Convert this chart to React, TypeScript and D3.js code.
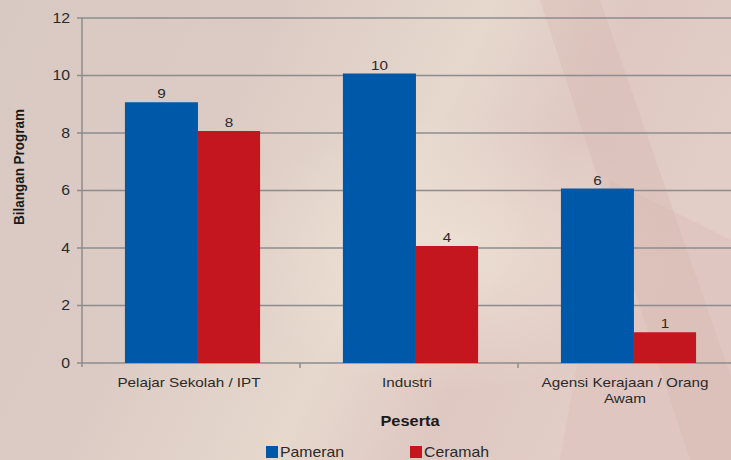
import React from "react";
import * as d3 from "d3";

const categories = ["Pelajar Sekolah / IPT", "Industri", "Agensi Kerajaan / Orang Awam"];
const categoryLines = [["Pelajar Sekolah / IPT"], ["Industri"], ["Agensi Kerajaan / Orang", "Awam"]];
const pameran = [9, 10, 6];
const ceramah = [8, 4, 1];
const seriesNames = ["Pameran", "Ceramah"];
const seriesColors = ["#0058a8", "#c4161e"];
const yTicks = [0, 2, 4, 6, 8, 10, 12];

const W = 731, H = 460;
const M = { left: 82, top: 18, right: -5, bottom: 97 };
const SX = 1.13;

function T(props: { x: number; y: number; anchor?: string; size: number; bold?: boolean; children: React.ReactNode; dy?: string }) {
  return (
    <text
      transform={`translate(${props.x},${props.y}) scale(${SX},1)`}
      dy={props.dy}
      textAnchor={props.anchor || "start"}
      fontFamily="'Liberation Sans', Arial, sans-serif"
      fontSize={props.size}
      fontWeight={props.bold ? "bold" : "normal"}
      fill={props.bold ? "#1a1a1a" : "#2a2a2a"}
    >
      {props.children}
    </text>
  );
}

export default function App() {
  const x = d3.scaleBand<string>().domain(categories).range([M.left, W - M.right]).paddingInner(0).paddingOuter(0);
  const y = d3.scaleLinear().domain([0, 12]).range([H - M.bottom, M.top]);
  const bw = x.bandwidth();
  const blueW = bw * 0.335;
  const redW = bw * 0.285;
  const groupW = blueW + redW;
  const font = "'Liberation Sans', Arial, sans-serif";
  return (
    <svg width={W} height={H} style={{ position: "absolute", left: 0, top: 0 }}>
      <defs>
        <linearGradient id="bg" x1="0" y1="0" x2="1" y2="0.3">
          <stop offset="0" stopColor="#d8c9c2" />
          <stop offset="0.35" stopColor="#dccbc4" />
          <stop offset="0.62" stopColor="#e6d8cd" />
          <stop offset="0.8" stopColor="#dfc8c2" />
          <stop offset="1" stopColor="#e3cdc7" />
        </linearGradient>
        <radialGradient id="glow" cx="0.62" cy="0.55" r="0.3">
          <stop offset="0" stopColor="#efe3d6" stopOpacity="0.8" />
          <stop offset="1" stopColor="#efe3d6" stopOpacity="0" />
        </radialGradient>
      </defs>
      <rect width={W} height={H} fill="url(#bg)" />
      <rect width={W} height={H} fill="url(#glow)" />
      <path d="M540,0 L600,0 L760,460 L690,460 Z" fill="#cfaea6" opacity="0.25" />
      <path d="M610,180 L731,240 L731,460 L560,460 Z" fill="#d9b3ab" opacity="0.25" />
      {yTicks.map((t) => (
        <g key={t}>
          <line x1={M.left - 5} x2={W} y1={y(t)} y2={y(t)} stroke="#8c8c8c" strokeWidth={1.5} />
          <T x={M.left - 12} y={y(t)} dy="0.35em" anchor="end" size={14}>{t}</T>
        </g>
      ))}
      <line x1={M.left} x2={M.left} y1={M.top} y2={y(0) + 4} stroke="#8c8c8c" strokeWidth={1.5} />
      {categories.map((c, i) => {
        const x0 = (x(c) as number) + (bw - groupW) / 2 + 1.5;
        return (
          <g key={c}>
            <line x1={(x(c) as number) + bw} x2={(x(c) as number) + bw} y1={y(0)} y2={y(0) + 5} stroke="#8c8c8c" strokeWidth={1.5} />
            <rect x={x0} y={y(pameran[i]) - 2} width={blueW} height={y(0) - y(pameran[i]) + 2} fill={seriesColors[0]} />
            <rect x={x0 + blueW} y={y(ceramah[i]) - 2} width={redW} height={y(0) - y(ceramah[i]) + 2} fill={seriesColors[1]} />
            <T x={x0 + blueW / 2} y={y(pameran[i]) - 6} anchor="middle" size={13.5}>{pameran[i]}</T>
            <T x={x0 + blueW + redW / 2} y={y(ceramah[i]) - 6} anchor="middle" size={13.5}>{ceramah[i]}</T>
            {categoryLines[i].map((ln, j) => (
              <T key={j} x={(x(c) as number) + bw / 2 - 2} y={y(0) + 24 + j * 16} anchor="middle" size={13.5}>{ln}</T>
            ))}
          </g>
        );
      })}
      <text transform={`translate(24,167) rotate(-90) scale(1,${SX})`} textAnchor="middle" fontFamily={font} fontSize={13.5} fontWeight="bold" fill="#1a1a1a">Bilangan Program</text>
      <T x={410} y={426} anchor="middle" size={14.5} bold>Peserta</T>
      {seriesNames.map((s, i) => (
        <g key={s} transform={`translate(${266 + i * 144},445)`}>
          <rect x={0} y={1} width={12} height={12} fill={seriesColors[i]} />
          <T x={14} y={12} size={14}>{s}</T>
        </g>
      ))}
    </svg>
  );
}
